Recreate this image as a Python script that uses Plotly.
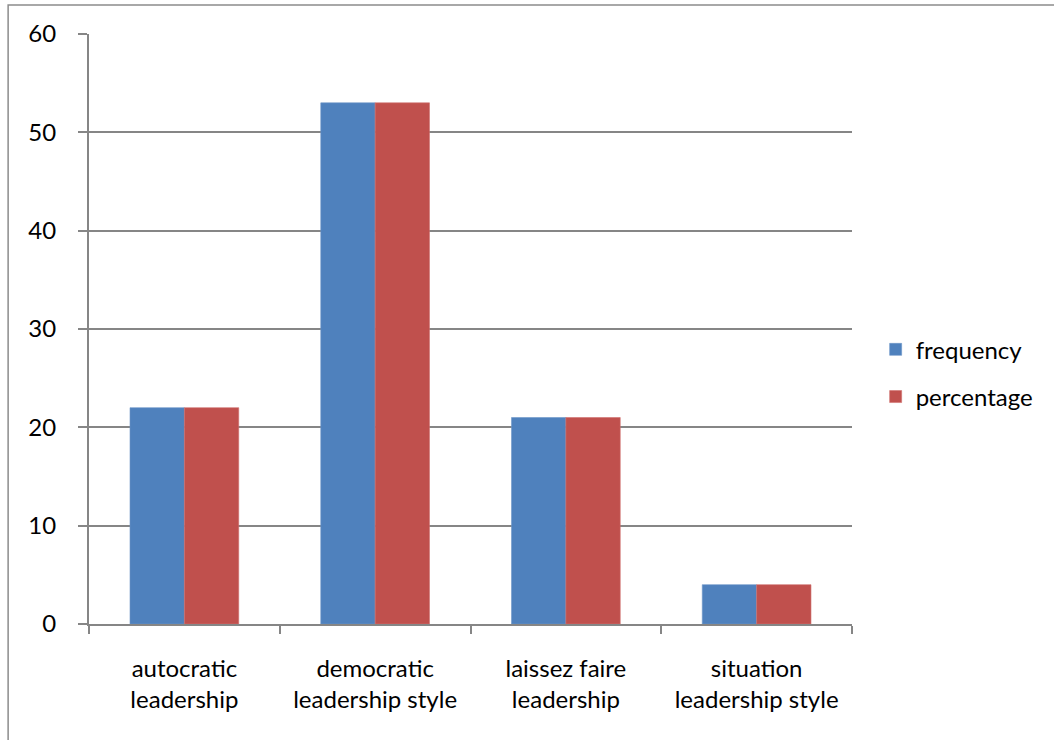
import plotly.graph_objects as go

# Leadership style survey results
categories = [
    "autocratic<br>leadership",
    "democratic<br>leadership style",
    "laissez faire<br>leadership",
    "situation<br>leadership style",
]
frequency = [22, 53, 21, 4]
percentage = [22, 53, 21, 4]

BLUE = "#4F81BD"
RED = "#C0504D"
GRID = "#868686"
FONT = "Lato"
FS = 24

fig = go.Figure()
fig.add_trace(go.Bar(name="frequency", x=categories, y=frequency, legendgroup="f",
                     marker=dict(color=BLUE, line=dict(color="#6d96c8", width=0.6))))
fig.add_trace(go.Bar(name="percentage", x=categories, y=percentage, legendgroup="p",
                     marker=dict(color=RED, line=dict(color="#d0716e", width=0.6))))

fig.update_layout(
    width=1054, height=740,
    margin=dict(l=89, r=202, t=34, b=116),
    paper_bgcolor="white", plot_bgcolor="white",
    barmode="group", bargap=0.43, bargroupgap=0,
    font=dict(family=FONT, size=FS, color="black"),
    showlegend=True,
    legend=dict(x=1.031, y=0.425, xanchor="left", yanchor="middle",
                font=dict(family=FONT, size=FS), itemwidth=30,
                tracegroupgap=13, bgcolor="rgba(0,0,0,0)"),
    shapes=[dict(type="rect", xref="paper", yref="paper",
                 x0=-0.106, x1=1.4, y0=-0.4, y1=1.049,
                 line=dict(color="#8c8c8c", width=1.5), layer="below")],
)

fig.update_yaxes(
    range=[0, 60], dtick=10, showgrid=True, gridcolor=GRID, gridwidth=1.5,
    showline=True, linecolor=GRID, linewidth=2,
    ticks="outside", ticklen=9, tickcolor=GRID, tickwidth=1.5,
    ticklabelstandoff=17, zeroline=False,
    tickfont=dict(family=FONT, size=FS),
)
fig.update_xaxes(
    showline=True, linecolor=GRID, linewidth=2,
    ticks="outside", tickson="boundaries", ticklen=8, tickcolor=GRID, tickwidth=1.5,
    ticklabelstandoff=22, showgrid=False,
    tickfont=dict(family=FONT, size=FS),
)

fig.write_html("out.html")
